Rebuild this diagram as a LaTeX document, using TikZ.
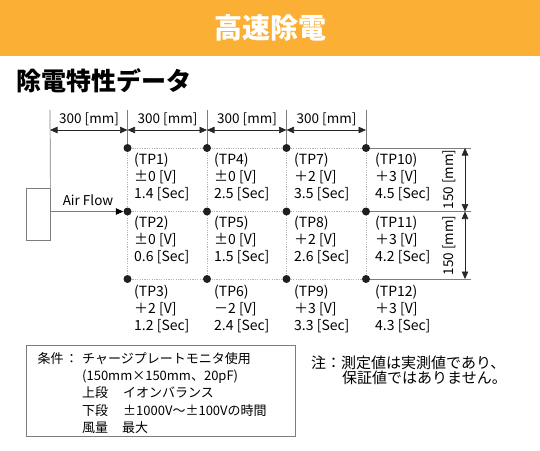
\documentclass[tikz,border=0pt]{standalone}
\usepackage{fontspec}
\setmainfont{Noto Sans CJK JP}
\usetikzlibrary{arrows.meta}
\definecolor{bandorange}{RGB}{251,175,52}
\definecolor{linegray}{RGB}{125,125,125}
\definecolor{gridgray}{RGB}{180,180,180}
\newcommand\fw[1]{{\addfontfeature{CharacterWidth=Full}#1}}
\newcommand\tpbox[6]{%
  \node[lbl] (#1a) at (#2,#3+16) {#4};
  \node[lbl] (#1b) at (#2,#3+33) {#5};
  \node[lbl] (#1c) at (#2,#3+50) {#6};
}
\begin{document}
\begin{tikzpicture}[x=1pt,y=-1pt,
  lbl/.style={inner sep=0pt, anchor=base west, font=\fontsize{14}{15}\selectfont},
  dimlbl/.style={inner sep=0pt, anchor=base, font=\fontsize{13.5}{15}\selectfont},
  boxtxt/.style={inner sep=0pt, anchor=base west, font=\fontsize{13}{15}\selectfont},
  notetxt/.style={inner sep=0pt, anchor=base west, font=\fontsize{15}{16}\selectfont},
  dot/.style={circle, fill=black!88, inner sep=0pt, minimum size=8pt},
  dimarrow/.style={{Triangle[length=7.5pt,width=6.5pt]}-{Triangle[length=7.5pt,width=6.5pt]}, black!85, line width=0.6pt},
  ext/.style={linegray, line width=0.7pt},
  gridln/.style={gridgray, line width=0.6pt, dash pattern=on 1.2pt off 1.2pt},
]
\useasboundingbox (0,0) rectangle (540,450);
% header band
\fill[bandorange] (0,0) rectangle (540,56);
\node[text=white, inner sep=0pt, font=\fontsize{28}{30}\selectfont\bfseries] (title) at (270,28) {高速除電};
\node[inner sep=0pt, anchor=west, font=\fontsize{25}{27}\selectfont\bfseries] (subtitle) at (16,81) {除電特性データ};

% grid coordinates
\coordinate (g11) at (127.5,148);   \coordinate (g12) at (127.5,211.5); \coordinate (g13) at (127.5,279);
\coordinate (g21) at (207,148);     \coordinate (g22) at (207,211.5);   \coordinate (g23) at (207,279);
\coordinate (g31) at (286.5,148);   \coordinate (g32) at (286.5,211.5); \coordinate (g33) at (286.5,279);
\coordinate (g41) at (366,148);     \coordinate (g42) at (366,211.5);   \coordinate (g43) at (366,279);

% dotted grid
\draw[gridln] (g11) -- (g21) -- (g31) -- (g41);
\draw[gridln] (g12) -- (g22) -- (g32) -- (g42);
\draw[gridln] (g13) -- (g23) -- (g33) -- (g43);
\draw[gridln] (g11) -- (g12) -- (g13);
\draw[gridln] (g21) -- (g22) -- (g23);
\draw[gridln] (g31) -- (g32) -- (g33);
\draw[gridln] (g41) -- (g42) -- (g43);

% right extension lines
\coordinate (e1) at (470.5,148);
\coordinate (e2) at (470.5,211.5);
\coordinate (e3) at (470.5,279);
\draw[ext] (g41) -- (e1);
\draw[ext] (g42) -- (e2);
\draw[ext] (g43) -- (e3);

% top ticks
\coordinate (t0) at (50,110);
\coordinate (t1) at (127.5,110);
\coordinate (t2) at (207,110);
\coordinate (t3) at (286.5,110);
\coordinate (t4) at (366,110);
\draw[ext] (t1) -- (g11);
\draw[ext] (t2) -- (g21);
\draw[ext] (t3) -- (g31);
\draw[ext] (t4) -- (g41);

% source box
\node[draw=linegray, line width=0.8pt, minimum width=24pt, minimum height=52pt, inner sep=0pt] (src) at (38,214) {};
\draw[ext] (t0) -- (src.north east);

% horizontal dimension arrows
\coordinate (a0) at (50,130);
\coordinate (a1) at (127.5,130);
\coordinate (a2) at (207,130);
\coordinate (a3) at (286.5,130);
\coordinate (a4) at (366,130);
\draw[dimarrow] (a0) -- (a1);
\draw[dimarrow] (a1) -- (a2);
\draw[dimarrow] (a2) -- (a3);
\draw[dimarrow] (a3) -- (a4);
\node[dimlbl] (dl1) at (89,123.5) {300 [mm]};
\node[dimlbl] (dl2) at (167.5,123.5) {300 [mm]};
\node[dimlbl] (dl3) at (247,123.5) {300 [mm]};
\node[dimlbl] (dl4) at (326.5,123.5) {300 [mm]};

% vertical dimension arrows
\coordinate (v1) at (465,148);
\coordinate (v2) at (465,211.5);
\coordinate (v3) at (465,279);
\draw[dimarrow] (v1) -- (v2);
\draw[dimarrow] (v2) -- (v3);
\node[dimlbl, rotate=90] (vl1) at (453.5,179.5) {150 [mm]};
\node[dimlbl, rotate=90] (vl2) at (453.5,245.5) {150 [mm]};

% dots
\node[dot] (d11) at (g11) {};
\node[dot] (d12) at (g12) {};
\node[dot] (d13) at (g13) {};
\node[dot] (d21) at (g21) {};
\node[dot] (d22) at (g22) {};
\node[dot] (d23) at (g23) {};
\node[dot] (d31) at (g31) {};
\node[dot] (d32) at (g32) {};
\node[dot] (d33) at (g33) {};
\node[dot] (d41) at (g41) {};
\node[dot] (d42) at (g42) {};
\node[dot] (d43) at (g43) {};
% air flow
\coordinate (af) at (50,211.5);
\draw[ext, -{Triangle[length=7.5pt,width=6.5pt,color=black]}] (af) -- (d12.west);
\node[inner sep=0pt, anchor=base, font=\fontsize{13.5}{15}\selectfont] (aflbl) at (88,205) {Air Flow};

% TP labels
\tpbox{tp1}{134}{148}{(TP1)}{\fw{±}0 [V]}{1.4 [Sec]}
\tpbox{tp2}{134}{211.5}{(TP2)}{\fw{±}0 [V]}{0.6 [Sec]}
\tpbox{tp3}{134}{280}{(TP3)}{＋2 [V]}{1.2 [Sec]}
\tpbox{tp4}{214}{148}{(TP4)}{\fw{±}0 [V]}{2.5 [Sec]}
\tpbox{tp5}{214}{211.5}{(TP5)}{\fw{±}0 [V]}{1.5 [Sec]}
\tpbox{tp6}{214}{280}{(TP6)}{－2 [V]}{2.4 [Sec]}
\tpbox{tp7}{294}{148}{(TP7)}{＋2 [V]}{3.5 [Sec]}
\tpbox{tp8}{294}{211.5}{(TP8)}{＋2 [V]}{2.6 [Sec]}
\tpbox{tp9}{294}{280}{(TP9)}{＋3 [V]}{3.3 [Sec]}
\tpbox{tp10}{375}{148}{(TP10)}{＋3 [V]}{4.5 [Sec]}
\tpbox{tp11}{375}{211.5}{(TP11)}{＋3 [V]}{4.2 [Sec]}
\tpbox{tp12}{375}{280}{(TP12)}{＋3 [V]}{4.3 [Sec]}

% conditions box
\node[draw=linegray, line width=0.8pt, minimum width=269pt, minimum height=91pt, inner sep=0pt] (condbox) at (160.5,390.5) {};
\node[boxtxt] (c1a) at (37.5,363) {条件};
\node[boxtxt] (c1b) at (65,363) {：};
\node[boxtxt] (c1c) at (82,363) {チャージプレートモニタ使用};
\node[boxtxt] (c2) at (82,380) {(150mm×150mm、20pF)};
\node[boxtxt] (c3a) at (82,397.5) {上段};
\node[boxtxt] (c3b) at (123,397.5) {イオンバランス};
\node[boxtxt] (c4a) at (82,415) {下段};
\node[boxtxt] (c4b) at (123,415) {\fw{±}1000V〜\fw{±}100Vの時間};
\node[boxtxt] (c5a) at (82,432) {風量};
\node[boxtxt] (c5b) at (122,432) {最大};

% note
\node[notetxt] (n1) at (311,368) {注：測定値は実測値であり、};
\node[notetxt] (n2) at (342,383.5) {保証値ではありません。};
\end{tikzpicture}
\end{document}
